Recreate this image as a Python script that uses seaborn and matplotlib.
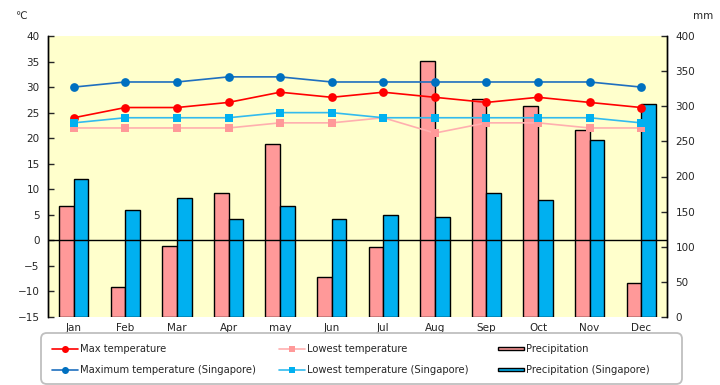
import pandas as pd
import matplotlib
matplotlib.use("Agg")
import matplotlib.pyplot as plt
import seaborn as sns
from matplotlib.patches import Patch, Rectangle, FancyBboxPatch
from matplotlib.legend_handler import HandlerPatch

# data
months = ["Jan", "Feb", "Mar", "Apr", "may", "Jun", "Jul", "Aug", "Sep", "Oct", "Nov", "Dec"]
max_temp = [24, 26, 26, 27, 29, 28, 29, 28, 27, 28, 27, 26]
low_temp = [22, 22, 22, 22, 23, 23, 24, 21, 23, 23, 22, 22]
max_temp_sg = [30, 31, 31, 32, 32, 31, 31, 31, 31, 31, 31, 30]
low_temp_sg = [23, 24, 24, 24, 25, 25, 24, 24, 24, 24, 24, 23]
precip = [158, 42, 101, 176, 246, 57, 100, 364, 310, 301, 266, 48]
precip_sg = [197, 153, 170, 140, 158, 139, 145, 142, 176, 166, 252, 303]

sns.set_style("white")
plt.rcParams["font.family"] = ["DejaVu Sans"]
plt.rcParams["font.size"] = 7.5

W, H = 720, 385
fig = plt.figure(figsize=(7.2, 3.85), dpi=100)
ax = fig.add_axes([48 / W, 1 - 317 / H, (667 - 48) / W, (317 - 36) / H])
ax2 = ax.twinx()

# bars on the right (mm) axis, drawn underneath
bars = pd.DataFrame({
    "month": months * 2,
    "value": precip + precip_sg,
    "series": ["Precipitation"] * 12 + ["Precipitation (Singapore)"] * 12,
})
sns.barplot(data=bars, x="month", y="value", hue="series", order=months,
            hue_order=["Precipitation", "Precipitation (Singapore)"],
            palette=["#FF9999", "#00B0F0"], width=0.57, edgecolor="black",
            linewidth=1, saturation=1, legend=False, ax=ax2)
ax2.set_ylim(0, 400)
ax2.set_yticks(range(0, 401, 50))
ax2.set_ylabel("")
ax2.set_xlabel("")
ax2.patch.set_visible(True)
ax2.set_facecolor("#FFFFCC")

# temperature lines on the left axis, on top
ax.set_zorder(ax2.get_zorder() + 1)
ax.patch.set_visible(False)
idx = list(range(12))
lines = [
    (max_temp, "Max temperature", "#FF0000", "#FF0000", "o"),
    (max_temp_sg, "Maximum temperature (Singapore)", "#1F6FBF", "#0070C0", "o"),
    (low_temp, "Lowest temperature", "#FFAFAF", "#FF9999", "s"),
    (low_temp_sg, "Lowest temperature (Singapore)", "#33BBEE", "#00B0F0", "s"),
]
for vals, lab, lc, mc, mk in lines:
    sns.lineplot(x=idx, y=vals, ax=ax, color=lc, linewidth=1.2, marker=mk,
                 markersize=6.3 if mk == "o" else 6, markerfacecolor=mc,
                 markeredgewidth=0, label=lab)
ax.axhline(0, color="black", linewidth=1)
ax.set_ylim(-15, 40)
ax.set_yticks(range(-15, 41, 5))
ax.set_xlim(-0.5, 11.5)
ax.set_xticks(idx)
ax.set_xticklabels(months)

for a in (ax, ax2):
    for s in ("top", "bottom"):
        a.spines[s].set_visible(False)
    for s in ("left", "right"):
        a.spines[s].set_color("black")
        a.spines[s].set_linewidth(1)
ax.tick_params(axis="y", direction="in", length=4, width=1, pad=6, labelsize=7.5)
ax2.tick_params(axis="y", direction="in", length=4, width=1, pad=6, labelsize=7.5)
ax.tick_params(axis="x", length=0, pad=4, labelsize=7.5)

fig.text(15 / W, 1 - 16 / H, "℃", fontsize=7.5, va="center")
fig.text(693 / W, 1 - 16 / H, "mm", fontsize=7.5, va="center")

# legend frame
frame = FancyBboxPatch((41 / W, 1 - 384 / H), (682 - 41) / W, (384 - 333) / H,
                       boxstyle="round,pad=0,rounding_size=0.008",
                       transform=fig.transFigure, facecolor="white",
                       edgecolor="#BFBFBF", linewidth=1.3, mutation_aspect=W / H)
fig.patches.append(frame)


def thin_bar(legend, orig_handle, xdescent, ydescent, width, height, fontsize):
    return Rectangle((-xdescent, -ydescent + height * 0.3), width, height * 0.4)


h1, l1 = ax.get_legend_handles_labels()
ax.get_legend().remove()
hp = Patch(facecolor="#FF9999", edgecolor="black", linewidth=1)
hs = Patch(facecolor="#00B0F0", edgecolor="black", linewidth=1)
groups = [
    ([h1[0], h1[1]], [l1[0], l1[1]], 52),
    ([h1[2], h1[3]], [l1[2], l1[3]], 279),
    ([hp, hs], ["Precipitation", "Precipitation (Singapore)"], 498),
]
for hh, ll, x0 in groups:
    lg = fig.legend(hh, ll, loc="center left",
                    bbox_to_anchor=(x0 / W, 1 - 359.5 / H), frameon=False,
                    fontsize=7.2, handlelength=2.6, handletextpad=0.2,
                    borderaxespad=0, borderpad=0, labelspacing=1.1,
                    markerscale=0.8,
                    handler_map={Patch: HandlerPatch(patch_func=thin_bar)})

fig.savefig("out.png", dpi=100)
